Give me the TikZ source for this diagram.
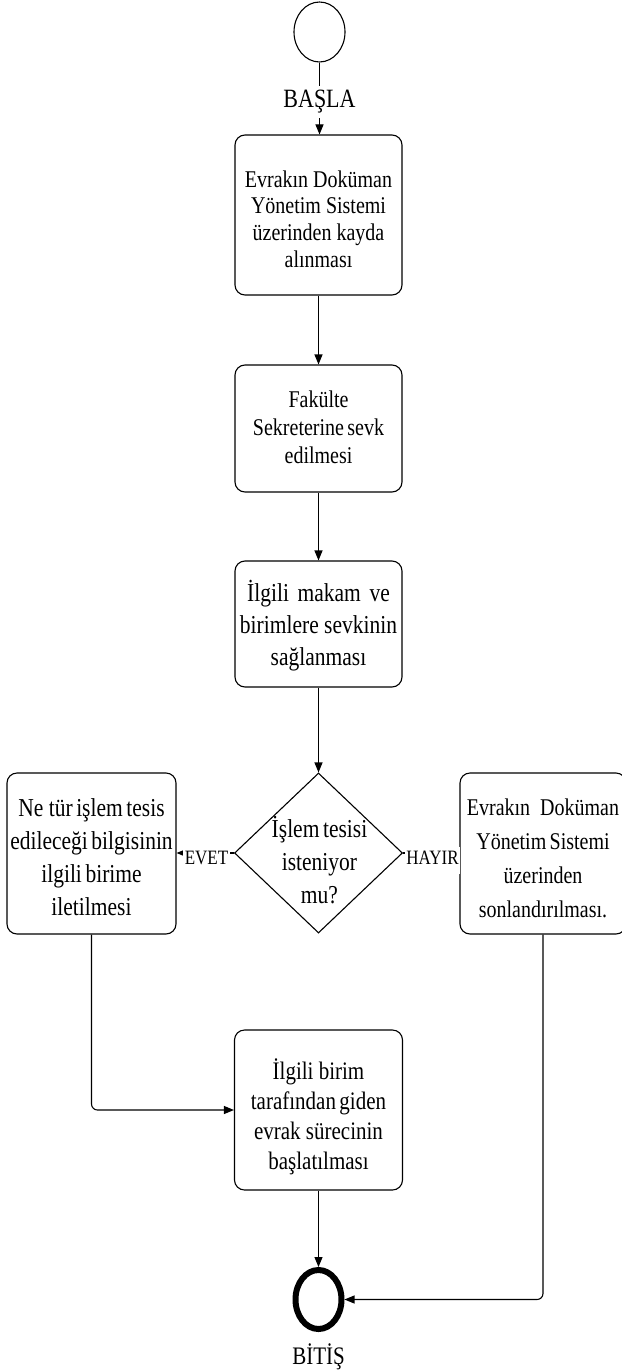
\documentclass[tikz,border=0pt]{standalone}
\usepackage{fontspec}
\usepackage{graphicx}
\setmainfont{Liberation Serif}
\usetikzlibrary{shapes.geometric,arrows.meta}
\newcommand\stx[2][0pt]{\raisebox{#1}[\height][\depth]{\scalebox{1}[1.2]{\begin{tabular}{@{}c@{}}#2\end{tabular}}}}
\begin{document}
\begin{tikzpicture}[x=1pt,y=-1pt,
  every node/.style={inner sep=0pt},
  box/.style={draw, rounded corners=10pt, line width=1.1pt, minimum width=167pt},
  conn/.style={line width=1.1pt, -{Triangle[length=10pt,width=8pt]}},
  lbl/.style={fill=white, inner sep=1.5pt},
]
\useasboundingbox (0,0) rectangle (621,1372);

% start / end
\node[ellipse, draw, line width=1.1pt, minimum width=51pt, minimum height=60pt] (start) at (319.5,32) {};
\node[ellipse, draw, line width=6pt, minimum width=46pt, minimum height=59pt] (end) at (318.5,1299.5) {};

% boxes
\node[box, minimum height=160pt, font=\fontsize{20pt}{22.25pt}\selectfont] (b1) at (318.5,215)
  {\stx[-7pt]{Evrakın Doküman\\Yönetim Sistemi\\üzerinden kayda\\alınması}};
\node[box, minimum height=127pt, font=\fontsize{20pt}{23.3pt}\selectfont] (b2) at (318.5,428.5)
  {\stx[-1.5pt]{Fakülte\\Sekreterine\,sevk\\edilmesi}};
\node[box, minimum height=126pt, font=\fontsize{21.5pt}{26.4pt}\selectfont] (b3) at (318.5,624)
  {\stx[-3pt]{İlgili\hspace{0.4em}makam\hspace{0.4em}ve\\birimlere sevkinin\\sağlanması}};
\node[draw, diamond, line width=1.1pt, minimum width=168pt, minimum height=160pt] (dia) at (318.5,853) {};
\node[font=\fontsize{21.5pt}{27.5pt}\selectfont] (diat) at (319.5,864)
  {\stx{İşlem\,tesisi\\isteniyor\\mu?\hspace{0.6em}}};
\node[box, minimum width=169pt, minimum height=161pt, font=\fontsize{21.5pt}{27.5pt}\selectfont] (lb) at (91.5,853.5)
  {\stx[-6pt]{Ne tür\,işlem\,tesis\\edileceği\,bilgisinin\\ilgili\,birime\\iletilmesi}};
\node[box, minimum width=166pt, minimum height=161pt, font=\fontsize{20pt}{28.3pt}\selectfont] (rb) at (543,853.5)
  {\stx[-6pt]{Evrakın\enspace Doküman\\Yönetim\,Sistemi\\üzerinden\\sonlandırılması.}};
\node[box, minimum width=168pt, minimum height=160pt, font=\fontsize{21pt}{25pt}\selectfont] (bb) at (318.5,1110)
  {\stx[-8pt]{İlgili birim\\tarafından\,giden\\evrak sürecinin\\başlatılması}};

% connectors
\draw[conn] (start) -- (start |- b1.north);
\node[lbl, font=\fontsize{22pt}{24pt}\selectfont] (basla) at (319.5,102) {\stx{BAŞLA}};
\draw[conn] (b1) -- (b2);
\draw[conn] (b2) -- (b3);
\draw[conn] (b3) -- (dia);
\draw[conn] (dia.west) -- (lb.east |- dia.west);
\draw[conn] (dia.east) -- (rb.west |- dia.east);
\node[lbl, font=\fontsize{17pt}{20pt}\selectfont] (evet) at (206.5,860) {\stx{EVET}};
\node[lbl, font=\fontsize{17pt}{20pt}\selectfont] (hayir) at (432.5,860) {\stx{HAYIR}};
\draw[conn, rounded corners=6pt] (lb.south) |- (bb.west);
\draw[conn, rounded corners=6pt] (rb.south) |- (end.east);
\draw[conn] (bb) -- (end);
\node[font=\fontsize{21pt}{24pt}\selectfont] (bitis) at (318.5,1358) {\stx{BİTİŞ}};
\end{tikzpicture}
\end{document}
